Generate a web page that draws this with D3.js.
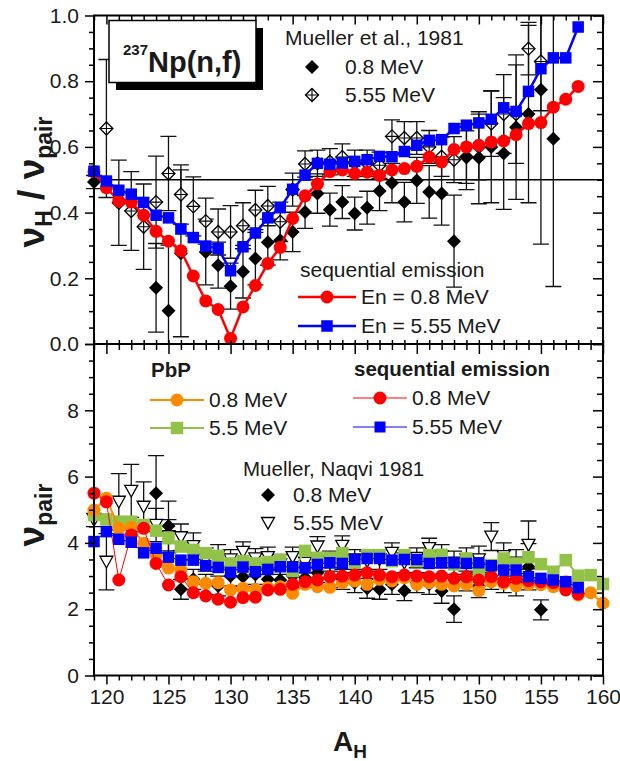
<!DOCTYPE html>
<html>
<head>
<meta charset="utf-8">
<script src="https://cdn.jsdelivr.net/npm/d3@7"></script>
<style>
  body { margin: 0; background: #fff; }
  svg { display: block; }
  text { font-family: "Liberation Sans", Arial, sans-serif; fill: #1a1a1a; }
</style>
</head>
<body>
<svg id="chart" width="620" height="761"></svg>
<script>
// ---------- data ----------
// heavy fragment mass numbers
const massSeq = [119,120,121,122,123,124,125,126,127,128,129,130,131,132,133,134,135,136,137,138,
                 139,140,141,142,143,144,145,146,147,148,149,150,151,152,153,154,155,156,157,158];
const massPbP = [119,120,121,122,123,124,125,126,127,128,129,130,131,132,133,134,135,136,137,138,
                 139,140,141,142,143,144,145,146,147,148,149,150,151,152,153,154,155,156,157,158,159,160];

// upper panel: nu_H / nu_pair, sequential emission
const ratioSeq08 = [0.524,0.476,0.435,0.432,0.392,0.343,0.313,0.284,0.207,0.131,0.105,0.017,0.113,0.178,0.245,0.294,0.382,0.451,0.487,0.525,
                    0.530,0.519,0.523,0.513,0.530,0.534,0.541,0.569,0.554,0.592,0.600,0.605,0.615,0.618,0.637,0.671,0.674,0.721,0.745,0.784];
const ratioSeq555 = [0.526,0.496,0.468,0.456,0.431,0.392,0.384,0.350,0.324,0.298,0.291,0.223,0.296,0.338,0.384,0.415,0.471,0.514,0.550,0.547,
                     0.551,0.556,0.561,0.571,0.570,0.586,0.605,0.620,0.622,0.656,0.666,0.673,0.684,0.719,0.708,0.769,0.838,0.871,0.871,0.965];

// upper panel: Mueller et al. 1981
const ratioMu08Mass = [119,124,125,126,128,129,130,131,132,133,134,135,136,137,138,139,140,141,142,143,144,145,146,147,148,149,150,151,152,153,154,155,156];
const ratioMu08     = [0.493,0.171,0.101,0.276,0.280,0.240,0.176,0.220,0.260,0.310,0.316,0.341,0.402,0.458,0.409,0.432,0.397,0.415,0.466,0.490,0.432,0.498,0.463,0.458,0.313,0.570,0.567,0.600,0.580,0.660,0.700,0.774,0.625];
const ratioMu08Err  = [0.020,0.135,0.200,0.254,0.100,0.070,0.070,0.080,0.080,0.070,0.060,0.060,0.050,0.060,0.050,0.050,0.050,0.050,0.060,0.060,0.060,0.070,0.080,0.096,0.140,0.100,0.140,0.170,0.170,0.220,0.270,0.470,0.450];

const ratioMu555Mass = [120,121,122,123,124,125,126,127,128,129,130,131,132,133,134,135,136,137,138,139,140,141,142,143,144,145,146,147,148,149,150,151,152,153,154,155];
const ratioMu555     = [0.656,0.430,0.405,0.357,0.432,0.519,0.455,0.419,0.374,0.341,0.341,0.360,0.408,0.420,0.372,0.470,0.548,0.550,0.555,0.569,0.550,0.550,0.544,0.632,0.627,0.627,0.600,0.570,0.561,0.569,0.600,0.671,0.700,0.700,0.899,0.860];
const ratioMu555Err  = [0.210,0.130,0.120,0.130,0.140,0.113,0.090,0.090,0.070,0.070,0.080,0.070,0.060,0.060,0.060,0.050,0.040,0.040,0.040,0.040,0.040,0.040,0.040,0.050,0.050,0.050,0.050,0.060,0.070,0.080,0.100,0.100,0.120,0.150,0.080,0.150];

// lower panel: nu_pair
const nuSeq08  = [5.50,5.24,2.88,4.24,4.44,3.38,2.73,2.98,2.50,2.40,2.30,2.21,2.35,2.36,2.58,2.60,2.75,2.83,2.88,2.98,
                  3.00,3.03,3.10,3.03,2.98,3.03,3.00,2.98,3.00,2.93,2.98,2.88,2.98,2.83,2.93,2.86,2.83,2.80,2.58,2.46];
const nuSeq555 = [4.04,4.34,4.11,4.02,3.70,3.84,3.57,3.48,3.48,3.31,3.26,3.11,3.27,3.13,3.20,3.28,3.28,3.25,3.35,3.40,
                  3.38,3.50,3.53,3.53,3.48,3.50,3.50,3.38,3.40,3.40,3.38,3.40,3.31,3.18,3.18,2.98,2.93,2.88,2.83,2.65];
const nuPbP08  = [4.99,5.35,4.44,4.47,3.99,3.64,3.24,3.18,2.83,2.78,2.80,2.58,2.63,2.60,2.65,2.68,2.48,2.75,2.68,2.66,
                  2.80,2.85,2.75,2.90,2.85,2.95,2.75,2.80,2.75,2.70,2.75,2.56,2.83,2.78,2.70,2.75,2.74,2.68,2.83,2.43,2.50,2.18];
const nuPbP55  = [4.84,4.71,4.64,4.64,4.54,4.37,4.14,3.89,3.79,3.69,3.61,3.38,3.45,3.38,3.42,3.48,3.15,3.76,3.55,3.55,
                  3.69,3.40,3.63,3.63,3.45,3.63,3.45,3.63,3.64,3.35,3.53,3.18,3.33,3.53,3.38,3.57,3.36,3.13,3.48,3.01,3.03,2.76];

// lower panel: Mueller, Naqvi 1981
const nuMu08Mass = [124,125,126,127,128,129,130,131,132,133,134,135,136,137,138,139,140,141,142,143,144,145,146,147,148,149,150,151,152,153,154,155];
const nuMu08     = [5.50,4.51,2.60,2.90,2.75,2.70,3.00,2.98,3.05,2.90,2.88,3.00,2.95,3.10,2.95,2.90,2.80,2.63,2.60,2.75,2.56,2.80,2.75,2.55,2.00,2.90,2.70,3.00,2.90,2.80,3.28,1.98];
const nuMu08Err  = [1.13,0.75,0.30,0.30,0.30,0.30,0.30,0.30,0.30,0.30,0.30,0.30,0.30,0.30,0.30,0.30,0.30,0.30,0.30,0.30,0.30,0.30,0.30,0.37,0.40,0.35,0.35,0.40,0.40,0.40,0.70,0.30];

const nuMu555Mass = [119,120,121,122,123,124,125,126,127,128,129,130,131,132,133,134,135,136,137,138,139,140,141,142,143,144,145,146,147,148,149,150,151,152,153,154];
const nuMu555     = [4.69,3.43,5.24,5.57,5.09,4.54,4.20,4.17,3.90,3.50,3.60,3.50,3.73,3.53,3.57,3.35,3.57,3.40,3.89,3.45,3.91,3.50,3.45,3.50,3.70,3.40,3.55,3.84,3.60,3.40,3.50,3.50,4.19,3.60,3.40,3.94];
const nuMu555Err  = [0.20,0.85,0.85,0.80,0.75,0.50,0.50,0.40,0.40,0.35,0.35,0.30,0.30,0.30,0.30,0.30,0.30,0.30,0.30,0.30,0.30,0.30,0.30,0.30,0.30,0.30,0.30,0.30,0.35,0.35,0.35,0.40,0.42,0.40,0.40,0.72];

// axis ticks
const xMajorTicks = [120,125,130,135,140,145,150,155,160];
const yTopTicks = [0.0,0.2,0.4,0.6,0.8,1.0];
const yBotTicks = [0,2,4,6,8];

// ---------- layout ----------
const svg = d3.select("#chart");
const pL = 94, pR = 603, pT = 15.5, pM = 344, pB = 675.5;

const x = d3.scaleLinear().domain([119, 160]).range([pL, pR]);
const yTop = d3.scaleLinear().domain([0, 1]).range([pM, pT]);
const yBot = d3.scaleLinear().domain([0, 10]).range([pB, pM]);

const RED = "#ff0000", BLUE = "#0000ff", ORANGE = "#ff8a00", GREEN = "#93c249";

// ---------- marker helpers ----------
function circle(g, cx, cy, r, fill) {
  g.append("circle").attr("cx", cx).attr("cy", cy).attr("r", r).attr("fill", fill);
}
function square(g, cx, cy, s, fill) {
  g.append("rect").attr("x", cx - s / 2).attr("y", cy - s / 2).attr("width", s).attr("height", s).attr("fill", fill);
}
function diamond(g, cx, cy, r) {
  g.append("path").attr("d", `M${cx},${cy - r}L${cx + r},${cy}L${cx},${cy + r}L${cx - r},${cy}Z`).attr("fill", "#000");
}
function crossDiamond(g, cx, cy, r) {
  g.append("path").attr("d", `M${cx},${cy - r}L${cx + r},${cy}L${cx},${cy + r}L${cx - r},${cy}Z`)
    .attr("fill", "#fff").attr("stroke", "#000").attr("stroke-width", 1.3);
  g.append("path").attr("d", `M${cx},${cy - r}V${cy + r}M${cx - r},${cy}H${cx + r}`)
    .attr("stroke", "#000").attr("stroke-width", 1.1);
}
function triangleDown(g, cx, cy, r) {
  g.append("path").attr("d", `M${cx - r},${cy - r * 0.85}L${cx + r},${cy - r * 0.85}L${cx},${cy + r * 0.95}Z`)
    .attr("fill", "#fff").attr("stroke", "#000").attr("stroke-width", 1.3);
}
function errorBars(g, masses, vals, errs, yScale, cap) {
  const [yMin, yMax] = yScale.range();
  masses.forEach((a, i) => {
    const cx = x(a);
    const hiRaw = yScale(vals[i] + errs[i]), loRaw = yScale(vals[i] - errs[i]);
    const y1 = Math.max(hiRaw, yMax);
    const y0 = Math.min(loRaw, yMin);
    const p = d3.path();
    p.moveTo(cx, y0); p.lineTo(cx, y1);
    if (hiRaw >= yMax) { p.moveTo(cx - cap, y1); p.lineTo(cx + cap, y1); }
    if (loRaw <= yMin) { p.moveTo(cx - cap, y0); p.lineTo(cx + cap, y0); }
    g.append("path").attr("d", p.toString()).attr("stroke", "#111").attr("stroke-width", 1.3).attr("fill", "none");
  });
}
function seriesLine(g, masses, vals, yScale, color, width) {
  const line = d3.line().x((d, i) => x(masses[i])).y(d => yScale(d));
  g.append("path").attr("d", line(vals)).attr("fill", "none").attr("stroke", color).attr("stroke-width", width);
}

// ---------- upper panel ----------
const gTop = svg.append("g");
// reference line at 0.5
gTop.append("line").attr("x1", pL).attr("x2", pR).attr("y1", yTop(0.5)).attr("y2", yTop(0.5))
  .attr("stroke", "#000").attr("stroke-width", 1.6);

errorBars(gTop, ratioMu555Mass, ratioMu555, ratioMu555Err, yTop, 8);
errorBars(gTop, ratioMu08Mass, ratioMu08, ratioMu08Err, yTop, 8);
ratioMu555Mass.forEach((a, i) => crossDiamond(gTop, x(a), yTop(ratioMu555[i]), 6.5));
ratioMu08Mass.forEach((a, i) => diamond(gTop, x(a), yTop(ratioMu08[i]), 7));

seriesLine(gTop, massSeq, ratioSeq08, yTop, RED, 2.5);
massSeq.forEach((a, i) => circle(gTop, x(a), yTop(ratioSeq08[i]), 6.5, RED));
seriesLine(gTop, massSeq, ratioSeq555, yTop, BLUE, 2.5);
massSeq.forEach((a, i) => square(gTop, x(a), yTop(ratioSeq555[i]), 11.5, BLUE));

// ---------- lower panel ----------
const gBot = svg.append("g");
errorBars(gBot, nuMu555Mass, nuMu555, nuMu555Err, yBot, 8);
errorBars(gBot, nuMu08Mass, nuMu08, nuMu08Err, yBot, 8);
nuMu08Mass.forEach((a, i) => diamond(gBot, x(a), yBot(nuMu08[i]), 7));
nuMu555Mass.forEach((a, i) => triangleDown(gBot, x(a), yBot(nuMu555[i]), 6.5));

seriesLine(gBot, massPbP, nuPbP55, yBot, GREEN, 2);
massPbP.forEach((a, i) => square(gBot, x(a), yBot(nuPbP55[i]), 12.5, GREEN));
seriesLine(gBot, massPbP, nuPbP08, yBot, ORANGE, 2);
massPbP.forEach((a, i) => circle(gBot, x(a), yBot(nuPbP08[i]), 6.5, ORANGE));
seriesLine(gBot, massSeq, nuSeq08, yBot, RED, 1);
massSeq.forEach((a, i) => circle(gBot, x(a), yBot(nuSeq08[i]), 6.5, RED));
seriesLine(gBot, massSeq, nuSeq555, yBot, BLUE, 1);
massSeq.forEach((a, i) => square(gBot, x(a), yBot(nuSeq555[i]), 11.5, BLUE));

// ---------- axes ----------
const gAx = svg.append("g");
const xMinor = d3.range(119, 161).filter(v => v % 5 !== 0);

function tickRow(yPos, values, size) {
  gAx.append("g").attr("transform", `translate(0,${yPos})`)
    .call(d3.axisBottom(x).tickValues(values).tickSize(size).tickFormat(""))
    .call(g => g.select(".domain").remove())
    .selectAll("line").attr("stroke", "#000").attr("stroke-width", 1.5);
}

// bottom x axis (outward ticks, labelled)
const xAxisB = gAx.append("g").attr("transform", `translate(0,${pB})`)
  .call(d3.axisBottom(x).tickValues(xMajorTicks).tickSize(9).tickPadding(5).tickFormat(d3.format("d")));
xAxisB.select(".domain").remove();
xAxisB.selectAll("line").attr("stroke", "#000").attr("stroke-width", 1.5);
xAxisB.selectAll("text").attr("font-size", 21).attr("font-family", "Liberation Sans, Arial, sans-serif").attr("fill", "#1a1a1a");
tickRow(pB, xMinor, 5);
// panel boundary: ticks hanging across the shared line
tickRow(pM - 4, xMajorTicks, 14);
tickRow(pM - 4, xMinor, 10);
// top edge: inward ticks
tickRow(pT, xMajorTicks, 9);
tickRow(pT, xMinor, 5);

function yAxes(scale, majors, minors, fmt) {
  const gl = gAx.append("g").attr("transform", `translate(${pL},0)`)
    .call(d3.axisLeft(scale).tickValues(majors).tickSize(9).tickPadding(6).tickFormat(fmt));
  gl.select(".domain").remove();
  gl.selectAll("line").attr("stroke", "#000").attr("stroke-width", 1.5);
  gl.selectAll("text").attr("font-size", 21).attr("font-family", "Liberation Sans, Arial, sans-serif").attr("fill", "#1a1a1a");
  const side = (tx, vals, size) => gAx.append("g").attr("transform", `translate(${tx},0)`)
    .call(d3.axisLeft(scale).tickValues(vals).tickSize(size).tickFormat(""))
    .call(g => g.select(".domain").remove())
    .selectAll("line").attr("stroke", "#000").attr("stroke-width", 1.5);
  side(pL, minors, 5);
  side(pR, majors, 10);
  side(pR, minors, 6);
}
const yTopMinor = d3.range(1, 20).map(k => k * 0.05).filter((v, i) => (i + 1) % 4 !== 0);
const yBotMinor = d3.range(1, 20).map(k => k * 0.5).filter((v, i) => (i + 1) % 4 !== 0);
yAxes(yTop, yTopTicks, yTopMinor, d3.format(".1f"));
yAxes(yBot, yBotTicks.concat([10]), yBotMinor, d => d === 10 ? "" : d3.format("d")(d));

// frame
gAx.append("rect").attr("x", pL).attr("y", pT).attr("width", pR - pL).attr("height", pB - pT)
  .attr("fill", "none").attr("stroke", "#000").attr("stroke-width", 2);
gAx.append("line").attr("x1", pL).attr("x2", pR).attr("y1", pM).attr("y2", pM)
  .attr("stroke", "#000").attr("stroke-width", 2);

// ---------- axis titles ----------
const xt = svg.append("text").attr("x", 350).attr("y", 751).attr("text-anchor", "middle")
  .attr("font-weight", "bold").attr("font-size", 28);
xt.append("tspan").text("A");
xt.append("tspan").attr("font-size", 19).attr("dy", 7).text("H");

const yt1 = svg.append("text").attr("transform", "translate(44,182) rotate(-90)").attr("text-anchor", "middle")
  .attr("font-weight", "bold").attr("font-size", 37);
yt1.append("tspan").text("ν");
yt1.append("tspan").attr("font-size", 23).attr("dy", 8).text("H");
yt1.append("tspan").attr("dy", -8).text(" / ν");
yt1.append("tspan").attr("font-size", 23).attr("dy", 8).text("pair");

const yt2 = svg.append("text").attr("transform", "translate(44,515) rotate(-90)").attr("text-anchor", "middle")
  .attr("font-weight", "bold").attr("font-size", 37);
yt2.append("tspan").text("ν");
yt2.append("tspan").attr("font-size", 23).attr("dy", 8).text("pair");

// ---------- legends, upper panel ----------
const lg = svg.append("g");
lg.append("rect").attr("x", 116).attr("y", 28).attr("width", 147).attr("height", 62).attr("fill", "#000");
lg.append("rect").attr("x", 109).attr("y", 20.5).attr("width", 147).attr("height", 62)
  .attr("fill", "#fff").attr("stroke", "#000").attr("stroke-width", 1.5);
const np = lg.append("text").attr("x", 123).attr("y", 72).attr("font-weight", "bold").attr("font-size", 29);
np.append("tspan").attr("font-size", 15).attr("dy", -17).text("237");
np.append("tspan").attr("dy", 17).text("Np(n,f)");

lg.append("text").attr("x", 285).attr("y", 45).attr("font-size", 21).text("Mueller et al., 1981");
diamond(lg, 312, 67, 7);
lg.append("text").attr("x", 345).attr("y", 74).attr("font-size", 21).text("0.8 MeV");
crossDiamond(lg, 312, 95, 6.5);
lg.append("text").attr("x", 345).attr("y", 102).attr("font-size", 21).text("5.55 MeV");

lg.append("text").attr("x", 300).attr("y", 277).attr("font-size", 21).text("sequential emission");
lg.append("line").attr("x1", 298).attr("x2", 356).attr("y1", 297).attr("y2", 297).attr("stroke", RED).attr("stroke-width", 2.5);
circle(lg, 327, 297, 6.5, RED);
lg.append("text").attr("x", 361).attr("y", 304).attr("font-size", 21).text("En = 0.8 MeV");
lg.append("line").attr("x1", 298).attr("x2", 356).attr("y1", 326).attr("y2", 326).attr("stroke", BLUE).attr("stroke-width", 2.5);
square(lg, 327, 326, 11.5, BLUE);
lg.append("text").attr("x", 361).attr("y", 333).attr("font-size", 21).text("En = 5.55 MeV");

// ---------- legends, lower panel ----------
lg.append("text").attr("x", 151).attr("y", 377).attr("font-size", 20.5).attr("font-weight", "bold").text("PbP");
lg.append("line").attr("x1", 150).attr("x2", 204).attr("y1", 400).attr("y2", 400).attr("stroke", ORANGE).attr("stroke-width", 2);
circle(lg, 177, 400, 6.5, ORANGE);
lg.append("text").attr("x", 209).attr("y", 407).attr("font-size", 21).text("0.8 MeV");
lg.append("line").attr("x1", 150).attr("x2", 204).attr("y1", 428).attr("y2", 428).attr("stroke", GREEN).attr("stroke-width", 2);
square(lg, 177, 428, 12.5, GREEN);
lg.append("text").attr("x", 209).attr("y", 435).attr("font-size", 21).text("5.5 MeV");

lg.append("text").attr("x", 354).attr("y", 376).attr("font-size", 20.5).attr("font-weight", "bold").text("sequential emission");
lg.append("line").attr("x1", 353).attr("x2", 407).attr("y1", 398).attr("y2", 398).attr("stroke", RED).attr("stroke-width", 1);
circle(lg, 380, 398, 6.5, RED);
lg.append("text").attr("x", 412).attr("y", 405).attr("font-size", 21).text("0.8 MeV");
lg.append("line").attr("x1", 353).attr("x2", 407).attr("y1", 427).attr("y2", 427).attr("stroke", BLUE).attr("stroke-width", 1);
square(lg, 380, 427, 11, BLUE);
lg.append("text").attr("x", 412).attr("y", 434).attr("font-size", 21).text("5.55 MeV");

lg.append("text").attr("x", 243).attr("y", 476).attr("font-size", 20.5).text("Mueller, Naqvi 1981");
diamond(lg, 268, 495, 7);
lg.append("text").attr("x", 293).attr("y", 502).attr("font-size", 21).text("0.8 MeV");
triangleDown(lg, 268, 523, 6.5);
lg.append("text").attr("x", 293).attr("y", 530).attr("font-size", 21).text("5.55 MeV");
</script>
</body>
</html>
